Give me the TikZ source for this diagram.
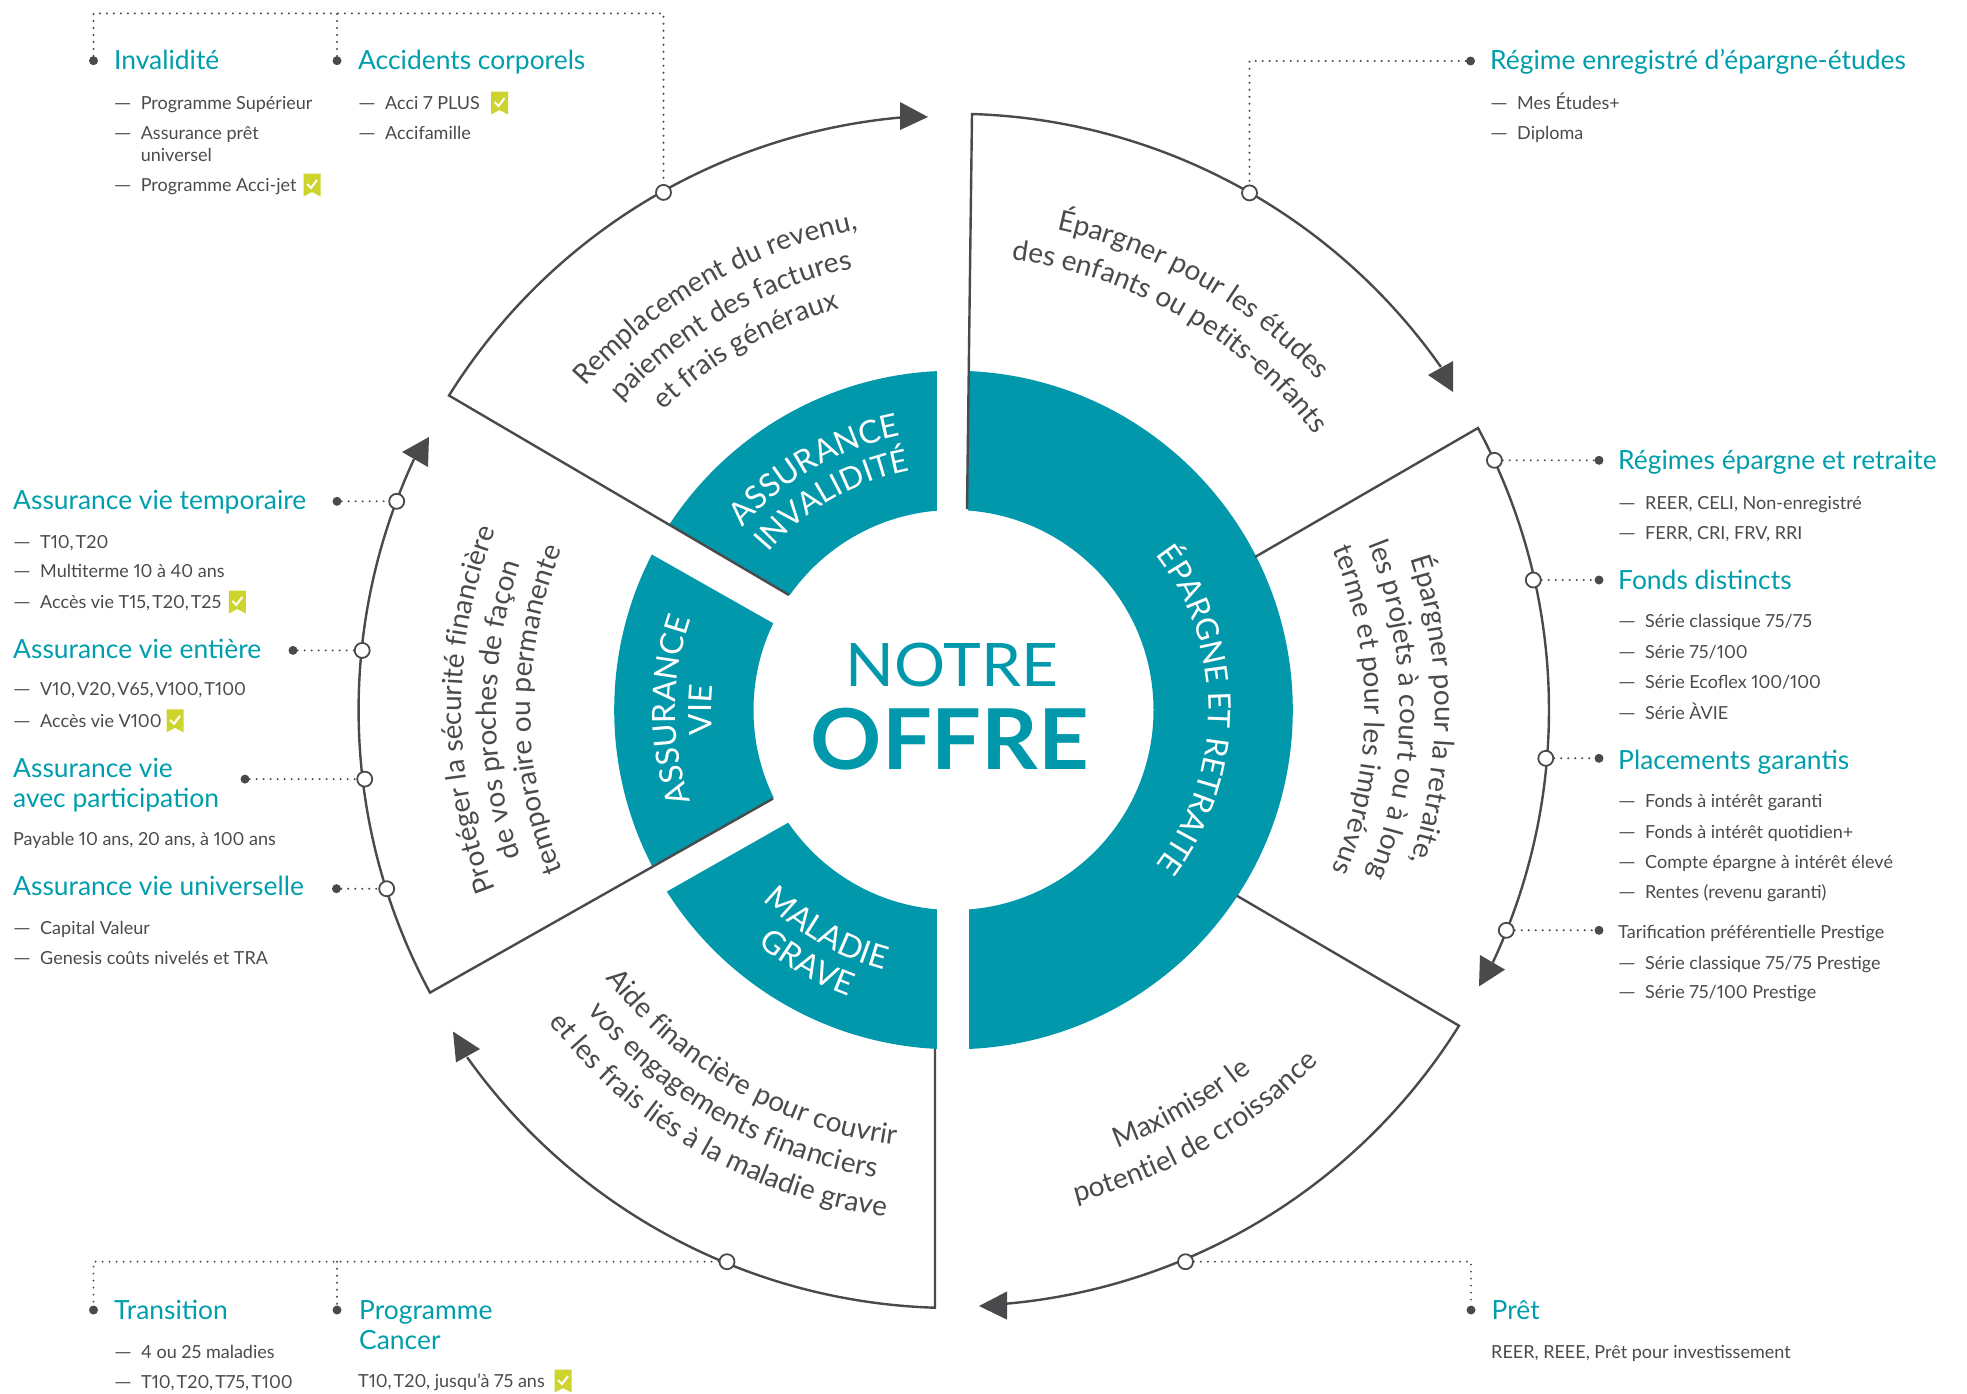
\documentclass[tikz,border=0pt]{standalone}
\usepackage{fontspec}
\setmainfont{Lato}[Numbers=Proportional]
\usetikzlibrary{decorations.text}
\definecolor{teal1}{RGB}{0,152,170}
\definecolor{headc}{RGB}{0,158,172}
\definecolor{dark1}{RGB}{74,74,77}
\definecolor{lime1}{RGB}{205,212,45}
\newcommand\sectfont{\fontsize{28}{34}\selectfont}
\newcommand\ringfont{\fontsize{32}{38}\selectfont}
\newcommand\ringfontb{\fontsize{31}{37}\selectfont}
\tikzset{
  x=1pt,y=1pt,
  frameline/.style={draw=dark1,line width=2.4pt,line join=miter},
  headnode/.style={anchor=base west,inner sep=0pt,text=headc,font=\fontsize{26.4}{30}\selectfont},
  bodynode/.style={anchor=base west,inner sep=0pt,text=dark1,font=\fontsize{18}{22}\selectfont},
  opendot/.style={circle,draw=dark1,fill=white,line width=1.8pt,minimum size=15pt,inner sep=0pt},
  fulldot/.style={circle,fill=dark1,minimum size=9pt,inner sep=0pt},
  dotline/.style={draw=dark1,line width=2.2pt,line cap=round,dash pattern=on 0pt off 7pt},
  badge/.pic={
    \fill[lime1] (-8.5,11.5)--(8.5,11.5)--(8.5,-11.5)--(0,-7)--(-8.5,-11.5)--cycle;
    \draw[white,line width=2pt] (-5,1)--(-1,-3)--(5,5);
  }
}
\newcommand\myhd[4]{\node[headnode] (#1) at (#2,-#3) {#4};}
\newcommand\mybd[4]{\node[bodynode] (#1) at (#2,-#3) {#4};}
\newcommand\myit[4]{\node[bodynode] (#1) at (#2,-#3) {\makebox[27pt][l]{\scalebox{1.25}[1]{—}}#4};}
% text on arcs concentric with the wheel: {colour}{font}{centre angle}{radius}{text}
\newcommand\arcCW[5]{\path[decorate,decoration={text along path,text align=center,text color=#1,text format delimiters={|}{|},text={|#2|#5}}] (953.5,-710) ++(#3+40:#4) arc[start angle=#3+40,end angle=#3-40,radius=#4];}
\newcommand\arcCCW[5]{\path[decorate,decoration={text along path,text align=center,text color=#1,text format delimiters={|}{|},text={|#2|#5}}] (953.5,-710) ++(#3-40:#4) arc[start angle=#3-40,end angle=#3+40,radius=#4];}
\newcommand\tsp{,\kern2pt}
\begin{document}
\begin{tikzpicture}
\useasboundingbox (0,0) rectangle (1967,-1393);
% ring
\fill[teal1,even odd rule] (953.5,-710) circle[radius=339.3] circle[radius=200];
\fill[white] (620,-495.8)--(800,-601)--(800,-638.3)--(620,-536.3)--cycle;
\fill[white] (620,-884.1)--(800,-783.5)--(800,-815.8)--(620,-918)--cycle;
\fill[white] (937,-350)--(968,-350)--(968,-520)--(937,-520)--cycle;
\fill[white] (937,-900)--(969,-900)--(969,-1070)--(937,-1070)--cycle;
% sectors
\coordinate (c1) at (449,-395.5);
\coordinate (c1b) at (789,-595);
\coordinate (c2) at (972,-114);
\coordinate (c2b) at (967,-509);
\coordinate (c3) at (1478,-428);
\coordinate (c3b) at (1255,-557);
\coordinate (c4) at (1459,-1025.7);
\coordinate (c4b) at (1237,-895.8);
\coordinate (c5) at (935,-1307.7);
\coordinate (c5b) at (935,-1049.2);
\coordinate (c6) at (430,-992.6);
\coordinate (c6b) at (773,-798.6);
\draw[frameline] (c1b)--(c1) arc[start angle=148.06,end angle=95.15,radius=595.5];
\draw[frameline] (c2b)--(c2) arc[start angle=88.2,end angle=35.1,radius=596];
\draw[frameline] (c3b)--(c3) arc[start angle=28.26,end angle=-25.08,radius=595.5];
\draw[frameline] (c4b)--(c4) arc[start angle=-31.98,end angle=-84.87,radius=596];
\draw[frameline] (c5b)--(c5) arc[start angle=-91.77,end angle=-144.55,radius=597];
\draw[frameline] (c6b)--(c6) arc[start angle=208.36,end angle=155.05,radius=595];
% arrowheads
\fill[dark1] (928,-117)--(900,-102)--(900,-130)--cycle;
\fill[dark1] (1453,-392)--(1428,-375)--(1453,-361)--cycle;
\fill[dark1] (1479,-986.4)--(1480,-955)--(1505,-969.6)--cycle;
\fill[dark1] (979,-1306)--(1007,-1291.4)--(1007,-1319.6)--cycle;
\fill[dark1] (453,-1031.5)--(480,-1049)--(456,-1062.4)--cycle;
\fill[dark1] (429,-437)--(402,-452)--(428,-467)--cycle;
% dots
\foreach \n/\x/\y in {o1/663.5/192.4,o2/1249.5/192.9,o3/1494.4/460.3,o4/1533.3/580,o5/1545.8/758.3,o6/1506.3/930.3,o7/1185.5/1261.7,o8/727/1261.7,o9/386.7/888.7,o10/364.7/779.1,o11/362.2/650.4,o12/396.7/501.3}
  \node[opendot] (\n) at (\x,-\y) {};
\foreach \n/\x/\y in {d1/93.5/60.7,d2/337/60.7,d3/1470.5/61,d4/1599/460.3,d5/1599/580,d6/1599/758.3,d7/1599/930.3,d8/1471/1310,d9/93.5/1310,d10/337/1310,d11/337/501.3,d12/293/650.4,d13/245/779.1,d14/336.5/888.7}
  \node[fulldot] (\n) at (\x,-\y) {};
\coordinate (k1) at (93.5,-13.4);
\coordinate (k2) at (337,-13.4);
\coordinate (k3) at (663.5,-13.4);
\coordinate (k4) at (1249.5,-61);
\coordinate (k5) at (1471,-1261.7);
\coordinate (k6) at (93.5,-1261.7);
\coordinate (k7) at (337,-1261.7);
\draw[dotline] (d1)--(k1)--(k3)--(o1);
\draw[dotline] (d2)--(k2);
\draw[dotline] (d3)--(k4)--(o2);
\draw[dotline] (o3)--(d4);
\draw[dotline] (o4)--(d5);
\draw[dotline] (o5)--(d6);
\draw[dotline] (o6)--(d7);
\draw[dotline] (o7)--(k5)--(d8);
\draw[dotline] (o8)--(k6)--(d9);
\draw[dotline] (k7)--(d10);
\draw[dotline] (d11)--(o12);
\draw[dotline] (d12)--(o11);
\draw[dotline] (d13)--(o10);
\draw[dotline] (d14)--(o9);
% centre
\node[inner sep=0pt,anchor=base,text=teal1,xscale=1.065,font=\fontsize{60}{60}\selectfont] (notre) at (952,-686) {NOTRE};
\node[inner sep=0pt,anchor=base,text=teal1,xscale=1.05,font=\fontsize{84}{84}\selectfont\bfseries] (offre) at (950,-769) {OFFRE};
% ring labels
\arcCW{white}{\ringfont}{120}{279}{ASSURANCE}
\arcCW{white}{\ringfontb}{120}{243}{INVALIDITÉ}
\arcCW{white}{\ringfont}{180}{278}{ASSURANCE}
\arcCW{white}{\ringfont}{180}{242}{VIE}
\arcCCW{white}{\ringfont}{240}{269}{MALADIE}
\arcCCW{white}{\ringfont}{240}{305}{GRAVE}
\arcCW{white}{\ringfontb}{0}{255}{ÉPARGNE ET RETRAITE}
% sector text
\arcCW{dark1}{\sectfont}{120}{490}{Remplacement du revenu,}
\arcCW{dark1}{\sectfont}{120}{453}{paiement des factures}
\arcCW{dark1}{\sectfont}{120}{417}{et frais généraux}
\arcCW{dark1}{\sectfont}{60}{491}{Épargner pour les études}
\arcCW{dark1}{\sectfont}{60}{454}{des enfants ou petits-enfants}
\arcCW{dark1}{\sectfont}{0}{481.5}{Épargner pour la retraite,}
\arcCW{dark1}{\sectfont}{0}{446.5}{les projets à court ou à long}
\arcCW{dark1}{\sectfont}{0}{411.5}{terme et pour les imprévus}
\arcCCW{dark1}{\sectfont}{-60}{468}{Maximiser le}
\arcCCW{dark1}{\sectfont}{-60}{507}{potentiel de croissance}
\arcCCW{dark1}{\sectfont}{240}{439}{Aide financière pour couvrir}
\arcCCW{dark1}{\sectfont}{240}{474}{vos engagements financiers}
\arcCCW{dark1}{\sectfont}{240}{511}{et les frais liés à la maladie grave}
\arcCW{dark1}{\sectfont}{180}{492}{Protéger la sécurité financière}
\arcCW{dark1}{\sectfont}{180}{457}{de vos proches de façon}
\arcCW{dark1}{\sectfont}{180}{423}{temporaire ou permanente}
% top-left lists
\myhd{h1}{114}{69}{Invalidité}
\myit{b1}{113.6}{109.6}{Programme Supérieur}
\myit{b2}{113.6}{139.5}{Assurance prêt}
\mybd{b3}{140.6}{161.4}{universel}
\myit{b4}{113.6}{191.3}{Programme Acci-jet}
\myhd{h2}{358}{69}{Accidents corporels}
\myit{b5}{358}{109.6}{Acci 7 PLUS}
\myit{b6}{358}{139.5}{Accifamille}
\pic at (499.5,-103) {badge};
\pic at (312,-185) {badge};
% top-right
\myhd{h3}{1490}{69}{Régime enregistré d’épargne-études}
\myit{b7}{1490}{109.6}{Mes Études+}
\myit{b8}{1490}{139.5}{Diploma}
% right
\myhd{h4}{1618}{469}{Régimes épargne et retraite}
\myit{b9}{1618}{509}{REER, CELI, Non-enregistré}
\myit{b10}{1618}{539.5}{FERR, CRI, FRV, RRI}
\myhd{h5}{1618}{589}{Fonds distincts}
\myit{b11}{1618}{627.4}{Série classique 75/75}
\myit{b12}{1618}{658}{Série 75/100}
\myit{b13}{1618}{688}{Série Ecoflex 100/100}
\myit{b14}{1618}{719.3}{Série ÀVIE}
\myhd{h6}{1618}{769.5}{Placements garantis}
\myit{b15}{1618}{807.7}{Fonds à intérêt garanti}
\myit{b16}{1618}{838.6}{Fonds à intérêt quotidien+}
\myit{b17}{1618}{868.6}{Compte épargne à intérêt élevé}
\myit{b18}{1618}{898.7}{Rentes (revenu garanti)}
\mybd{b19}{1618}{938.5}{Tarification préférentielle Prestige}
\myit{b20}{1618}{969}{Série classique 75/75 Prestige}
\myit{b21}{1618}{998}{Série 75/100 Prestige}
% left
\myhd{h7}{13}{509}{Assurance vie temporaire}
\myit{b22}{13}{548.4}{T10\tsp T20}
\myit{b23}{13}{577.4}{Multiterme 10 à 40 ans}
\myit{b24}{13}{608.7}{Accès vie T15\tsp T20\tsp T25}
\pic at (237.3,-602) {badge};
\myhd{h8}{13}{658}{Assurance vie entière}
\myit{b25}{13}{695.7}{V10\tsp V20\tsp V65\tsp V100\tsp T100}
\myit{b26}{13}{727.2}{Accès vie V100}
\pic at (175,-720.8) {badge};
\myhd{h9}{13}{777}{Assurance vie}
\myhd{h10}{13}{807}{avec participation}
\mybd{b27}{13}{845.7}{Payable 10 ans, 20 ans, à 100 ans}
\myhd{h11}{13}{895.5}{Assurance vie universelle}
\myit{b28}{13}{934.5}{Capital Valeur}
\myit{b29}{13}{964.5}{Genesis coûts nivelés et TRA}
% bottom
\myhd{h12}{114}{1319}{Transition}
\myit{b30}{114}{1358.8}{4 ou 25 maladies}
\myit{b31}{114}{1388.8}{T10\tsp T20\tsp T75\tsp T100}
\myhd{h13}{359}{1319}{Programme}
\myhd{h14}{359}{1349}{Cancer}
\mybd{b32}{358}{1387}{T10\tsp T20, jusqu’à 75 ans}
\pic at (563,-1381) {badge};
\myhd{h15}{1491.5}{1319}{Prêt}
\mybd{b33}{1491}{1358.8}{REER, REEE, Prêt pour investissement}
\end{tikzpicture}
\end{document}
